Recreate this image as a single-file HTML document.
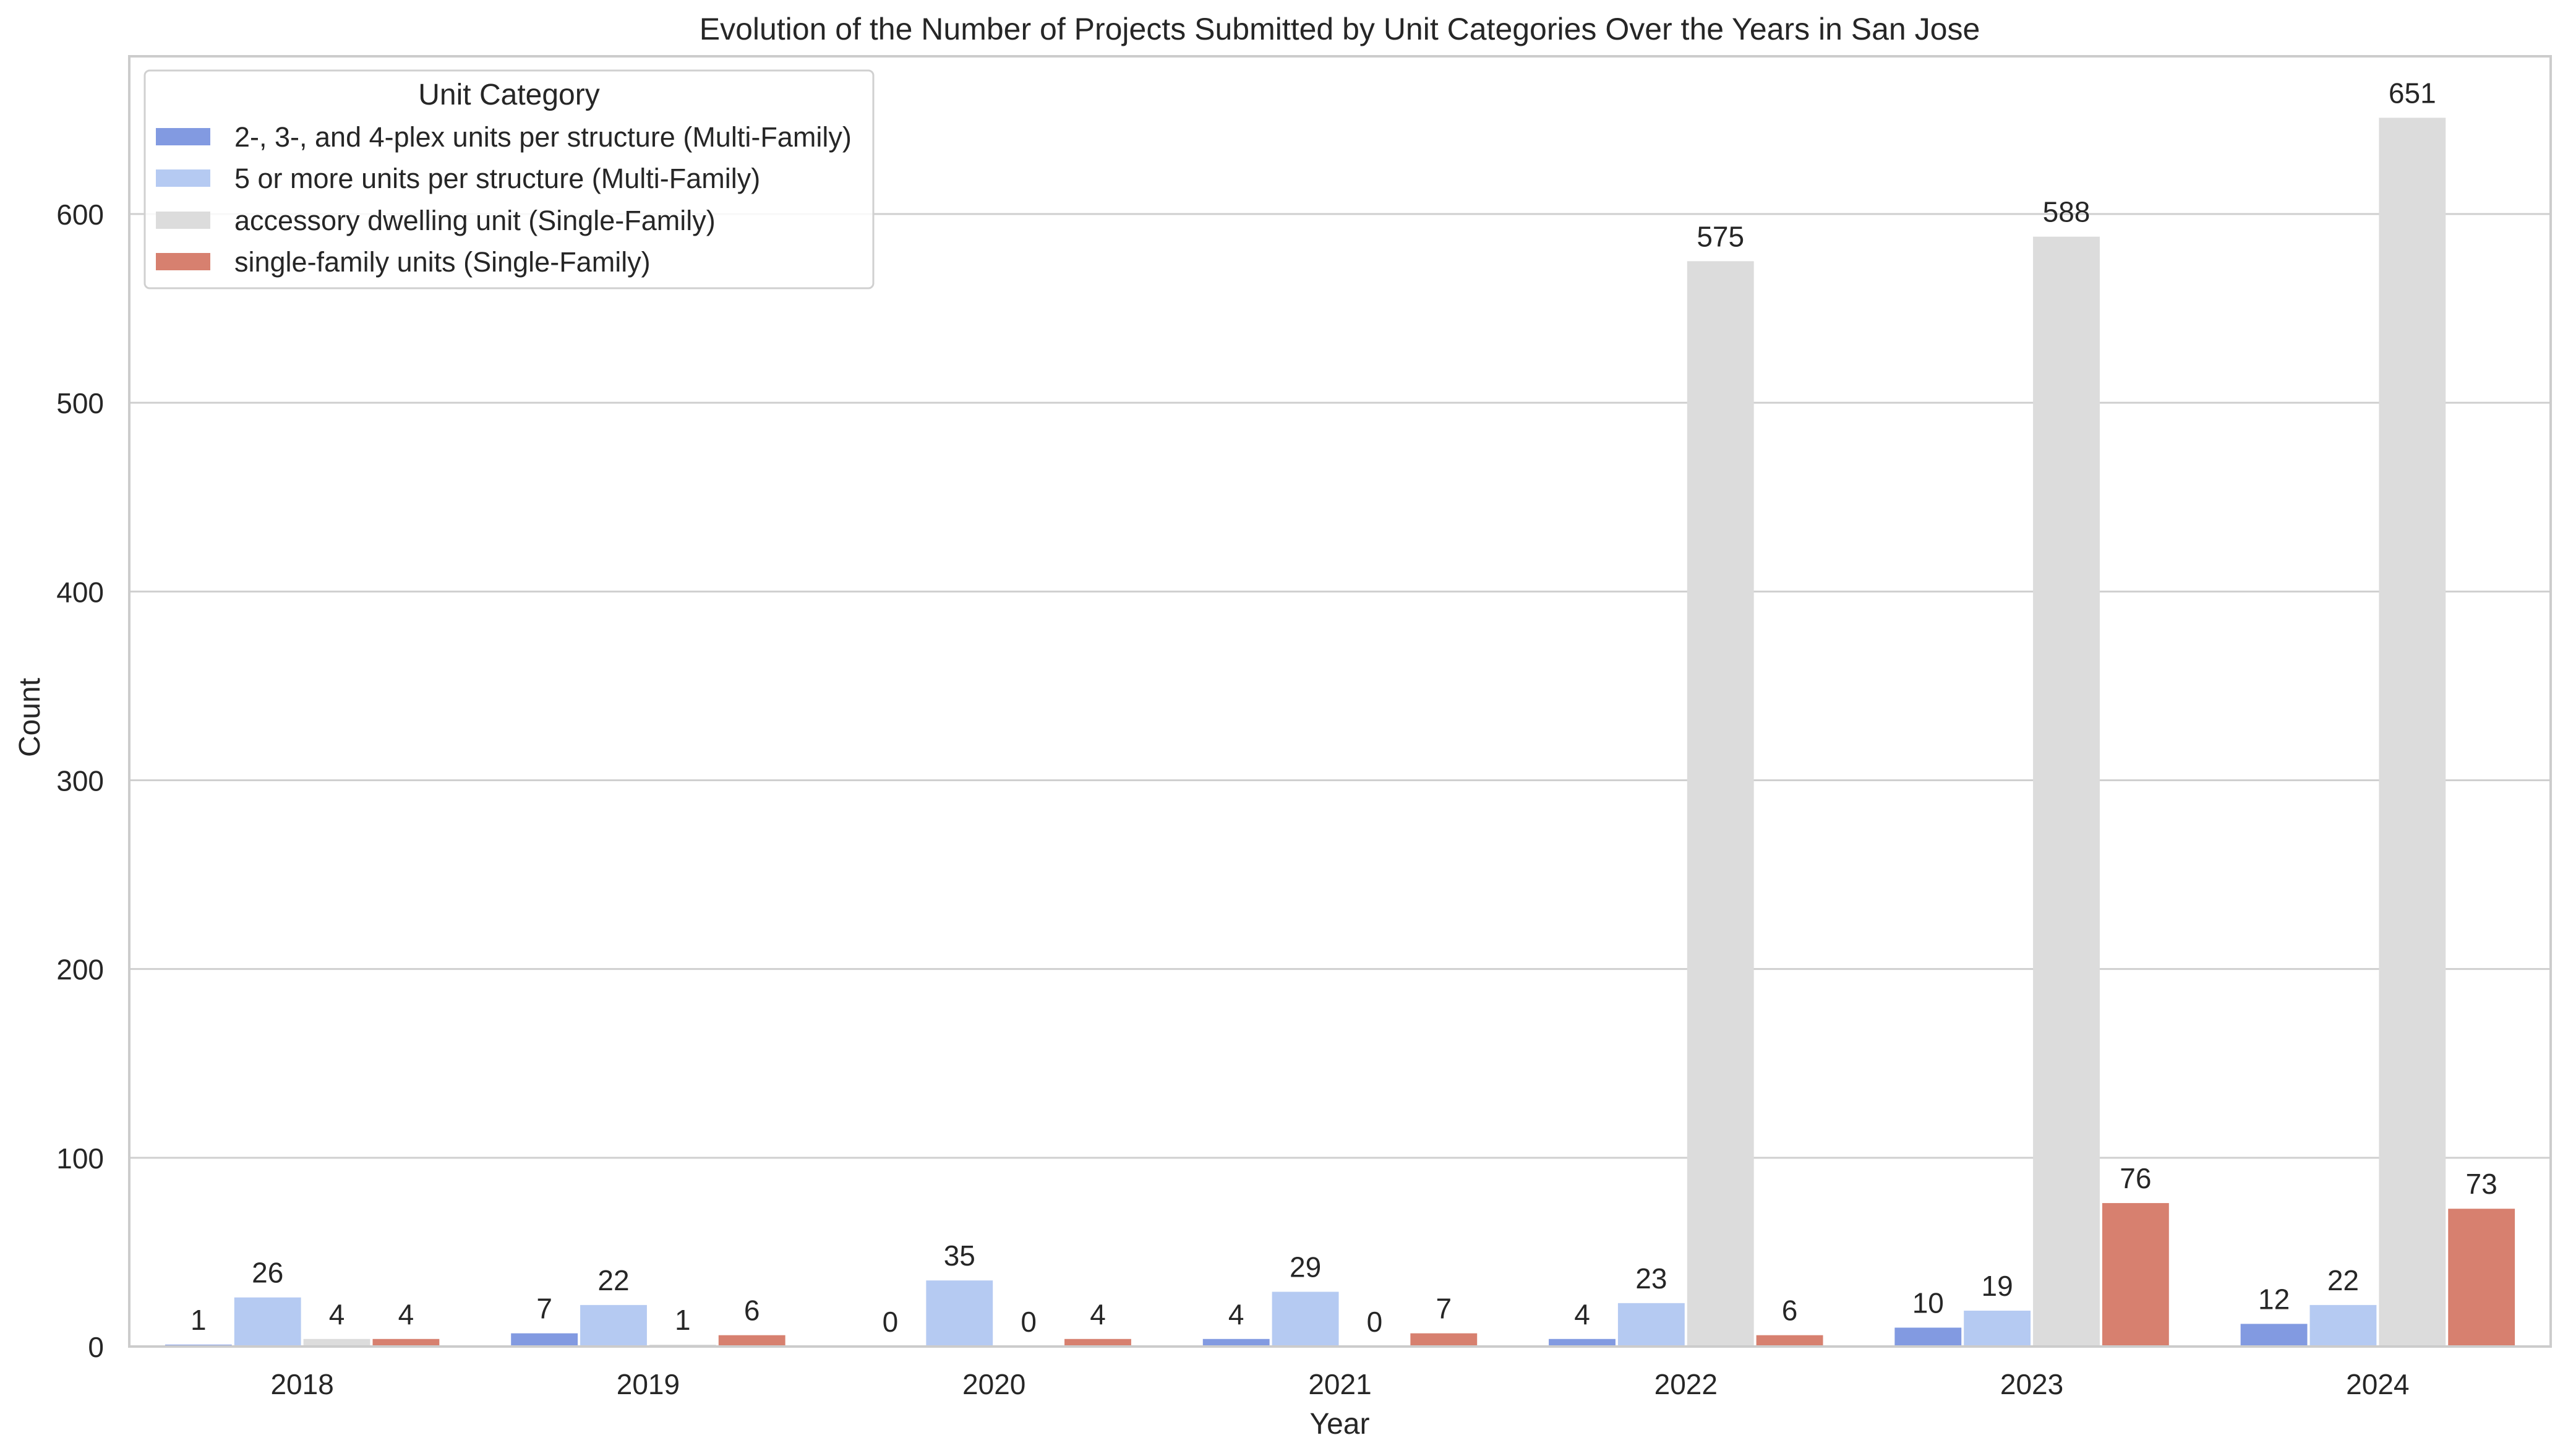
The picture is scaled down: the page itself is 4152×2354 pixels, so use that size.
<!DOCTYPE html>
<html><head><meta charset="utf-8"><style>
html,body{margin:0;padding:0;background:#fff;}
svg{display:block;font-family:"Liberation Sans",Arial,sans-serif;fill:#262626;}
</style></head><body>
<svg id="chart" width="4152" height="2354" viewBox="0 0 4152 2354" xmlns="http://www.w3.org/2000/svg">
<rect x="0" y="0" width="4152" height="2354" fill="#fff"/>
<text x="2166" y="64" font-size="50" text-anchor="middle">Evolution of the Number of Projects Submitted by Unit Categories Over the Years in San Jose</text>
<g id="grid"></g>
<g id="bars"></g>
<g id="labels"></g>
<g id="axes"></g>
<text x="0" y="0" font-size="48" text-anchor="middle" transform="translate(64,1160) rotate(-90)">Count</text>
<text x="2166" y="2318" font-size="48" text-anchor="middle">Year</text>
<g>
<rect x="234" y="114" width="1178" height="352" rx="8" fill="#fff" fill-opacity="0.85" stroke="#d0d0d0" stroke-width="3"/>
<text x="823" y="169" font-size="48" text-anchor="middle">Unit Category</text>
<g id="legend-entries"></g>
</g>
</svg>
<script>
const years = ["2018","2019","2020","2021","2022","2023","2024"];
const seriesNames = ["2-, 3-, and 4-plex units per structure (Multi-Family)","5 or more units per structure (Multi-Family)","accessory dwelling unit (Single-Family)","single-family units (Single-Family)"];
const plexValues = [1,7,0,4,4,10,12];
const fivePlusValues = [26,22,35,29,23,19,22];
const aduValues = [4,1,0,0,575,588,651];
const singleFamilyValues = [4,6,4,7,6,76,73];
const yTicks = [0,100,200,300,400,500,600];

const seriesValues = [plexValues, fivePlusValues, aduValues, singleFamilyValues];
const colors = ["#829ae1","#b5caf2","#dcdcdc","#d7806f"];
const NS = "http://www.w3.org/2000/svg";
const L = 209, R = 4124, T = 91, B = 2177;
const yScale = v => B - v * (B - 346) / 600;
const groupW = (R - L) / years.length;
const xCenter = i => L + groupW * (i + 0.5);
const slot = groupW * 0.8 / 4;
function mk(tag, attrs, parent){const e=document.createElementNS(NS,tag);for(const k in attrs)e.setAttribute(k,attrs[k]);parent.appendChild(e);return e;}
const grid = document.getElementById('grid'), bars = document.getElementById('bars'), labels = document.getElementById('labels'), axes = document.getElementById('axes');
yTicks.forEach(t => {
  const y = yScale(t);
  if (t > 0) {
    const g = mk('line', {x1:L, x2:R, y1:y, y2:y, stroke:'#cfcfcf', 'stroke-width':3}, grid);
    
    
  }
  const tx = mk('text', {x:168, y:y+17, 'font-size':46, 'text-anchor':'end'}, axes);
  tx.textContent = t;
  
  
});
years.forEach((yr, i) => {
  const tx = mk('text', {x:xCenter(i), y:2254, 'font-size':46, 'text-anchor':'middle'}, axes);
  tx.textContent = yr;
  
  
  seriesValues.forEach((vals, s) => {
    const v = vals[i];
    const x0 = xCenter(i) - 2 * slot + s * slot;
    const r = mk('rect', {x:x0+2, y:yScale(v), width:slot-4, height:B-yScale(v), fill:colors[s]}, bars);
    
    
    const lb = mk('text', {x:x0+slot/2, y:yScale(v)-24, 'font-size':46, 'text-anchor':'middle'}, labels);
    lb.textContent = v;
    
    
  });
});
const ax = mk('rect', {x:L, y:T, width:R-L, height:B-T, fill:'none', stroke:'#cccccc', 'stroke-width':4}, axes);


const le = document.getElementById('legend-entries');
const legendY = [221, 288, 356, 423];
seriesNames.forEach((n, s) => {
  const g = mk('g', {}, le);
  
  
  mk('rect', {x:252, y:legendY[s]-14, width:88, height:28, fill:colors[s]}, g);
  const t = mk('text', {x:379, y:legendY[s]+16, 'font-size':45}, g);
  t.textContent = n;
});
</script>
</body></html>
